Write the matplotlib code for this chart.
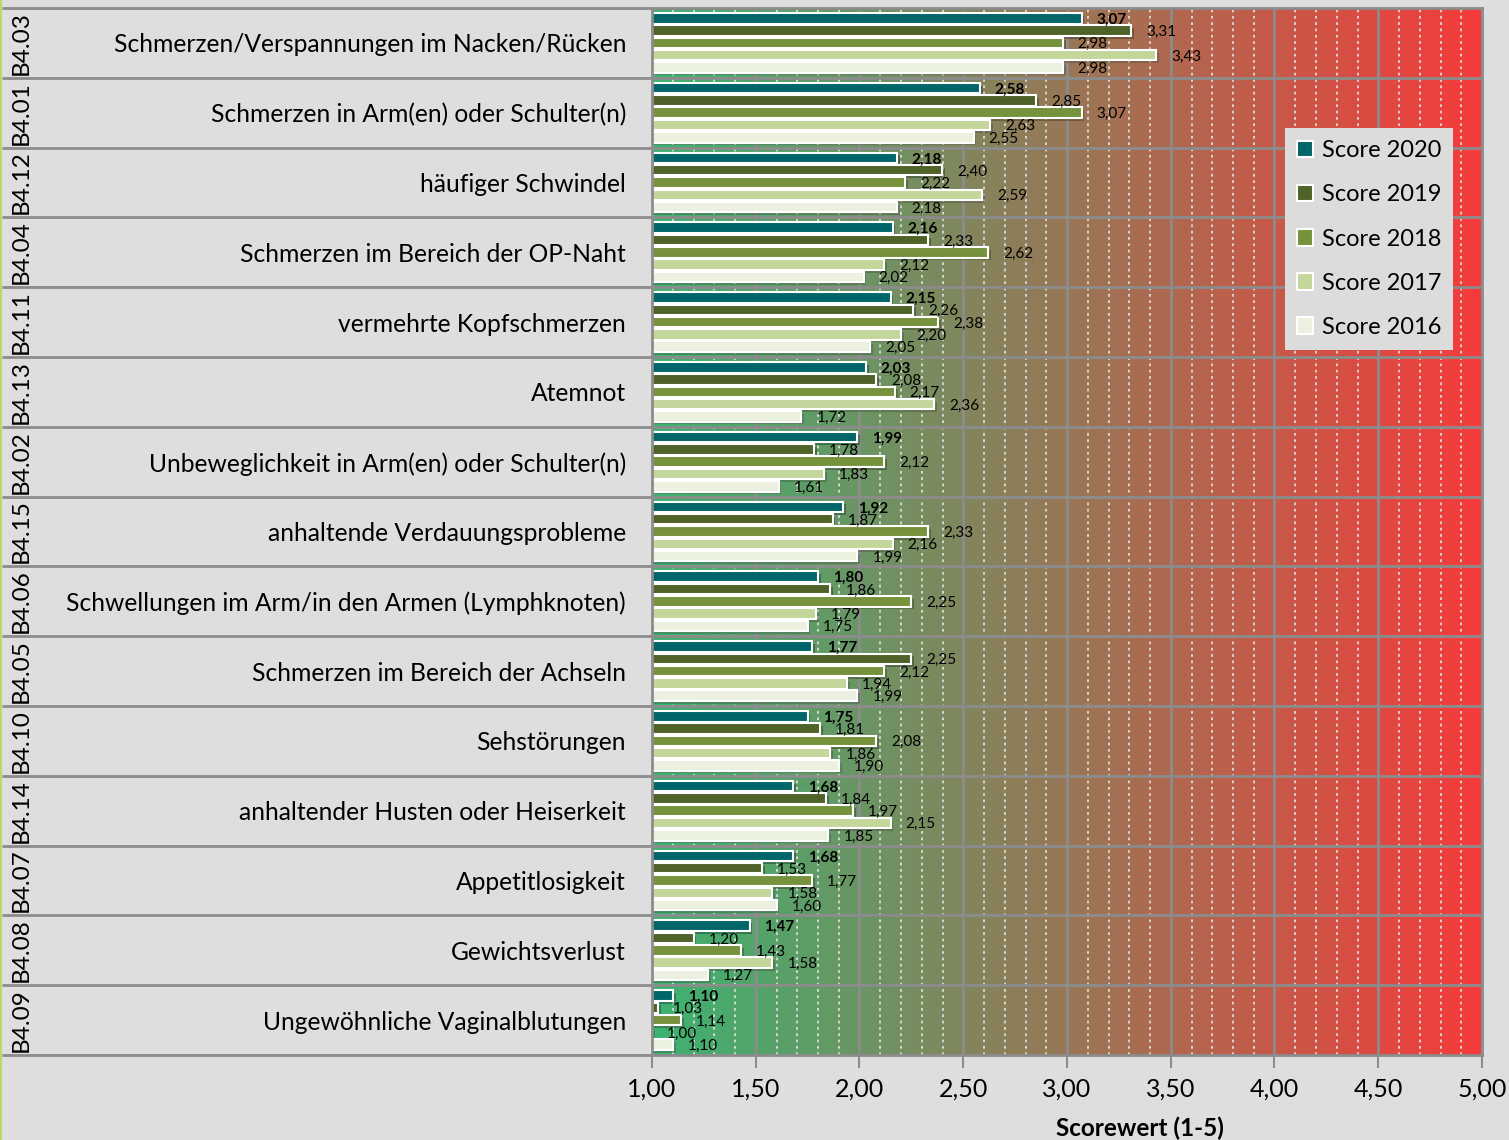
import numpy as np
import matplotlib
matplotlib.use("Agg")
import matplotlib.pyplot as plt
from matplotlib.colors import LinearSegmentedColormap
from matplotlib.patches import Patch, Rectangle
from matplotlib import patheffects

plt.rcParams['font.family'] = ['Lato', 'DejaVu Sans']

codes = ["B4.03", "B4.01", "B4.12", "B4.04", "B4.11", "B4.13", "B4.02", "B4.15",
         "B4.06", "B4.05", "B4.10", "B4.14", "B4.07", "B4.08", "B4.09"]
items = ["Schmerzen/Verspannungen im Nacken/Rücken",
         "Schmerzen in Arm(en) oder Schulter(n)",
         "häufiger Schwindel",
         "Schmerzen im Bereich der OP-Naht",
         "vermehrte Kopfschmerzen",
         "Atemnot",
         "Unbeweglichkeit in Arm(en) oder Schulter(n)",
         "anhaltende Verdauungsprobleme",
         "Schwellungen im Arm/in den Armen (Lymphknoten)",
         "Schmerzen im Bereich der Achseln",
         "Sehstörungen",
         "anhaltender Husten oder Heiserkeit",
         "Appetitlosigkeit",
         "Gewichtsverlust",
         "Ungewöhnliche Vaginalblutungen"]

years = ["Score 2020", "Score 2019", "Score 2018", "Score 2017", "Score 2016"]
score_2020 = [3.07, 2.58, 2.18, 2.16, 2.15, 2.03, 1.99, 1.92, 1.80, 1.77, 1.75, 1.68, 1.68, 1.47, 1.10]
score_2019 = [3.31, 2.85, 2.40, 2.33, 2.26, 2.08, 1.78, 1.87, 1.86, 2.25, 1.81, 1.84, 1.53, 1.20, 1.03]
score_2018 = [2.98, 3.07, 2.22, 2.62, 2.38, 2.17, 2.12, 2.33, 2.25, 2.12, 2.08, 1.97, 1.77, 1.43, 1.14]
score_2017 = [3.43, 2.63, 2.59, 2.12, 2.20, 2.36, 1.83, 2.16, 1.79, 1.94, 1.86, 2.15, 1.58, 1.58, 1.00]
score_2016 = [2.98, 2.55, 2.18, 2.02, 2.05, 1.72, 1.61, 1.99, 1.75, 1.99, 1.90, 1.85, 1.60, 1.27, 1.10]
series = [score_2020, score_2019, score_2018, score_2017, score_2016]
colors = ["#00666a", "#4f6228", "#76923c", "#c4d79b", "#ebf1de"]

W, H = 1509, 1140
L, R, T, B = 652, 1482, 8, 1055
n = len(items)

fig = plt.figure(figsize=(W / 100, H / 100), dpi=100)
fig.patch.set_facecolor("#dedede")

ax = fig.add_axes([L / W, 1 - B / H, (R - L) / W, (B - T) / H])
cmap = LinearSegmentedColormap.from_list("gr", ["#3cb371", "#f53b3b"])
ax.imshow(np.linspace(0, 1, 256).reshape(1, -1), extent=[1, 5, n, 0],
          aspect="auto", cmap=cmap, zorder=0)
ax.set_xlim(1, 5)
ax.set_ylim(n, 0)

ax.set_xticks(np.arange(1, 5.01, 0.5))
ax.set_xticks(np.arange(1, 5.01, 0.1), minor=True)
ax.set_xticklabels([f"{v:.2f}".replace(".", ",") for v in np.arange(1, 5.01, 0.5)])
ax.set_yticks([])
ax.set_axisbelow(True)
ax.grid(which="major", axis="x", color="#8c8c8c", lw=2)
ax.grid(which="minor", axis="x", color="#dcdcdc", ls=(0, (1.5, 2)), lw=1.3)
ax.hlines(np.arange(1, n), 1, 5, color="#8c8c8c", lw=2, zorder=0.6)
ax.tick_params(axis="x", which="major", length=9, width=1.5, color="#8c8c8c",
               labelsize=18, pad=7)
ax.tick_params(axis="x", which="minor", length=0)
for s in ax.spines.values():
    s.set_color("#8c8c8c")
    s.set_linewidth(2)

pitch = 0.176
shadow = [patheffects.SimplePatchShadow(offset=(2, -2), alpha=0.35), patheffects.Normal()]
for k, vals in enumerate(series):
    y = np.arange(n) + 0.5 + (k - 2) * pitch
    ax.barh(y, vals, height=0.15, color=colors[k], edgecolor="white", lw=1.5,
            zorder=2, path_effects=shadow)
    for yy, v in zip(y, vals):
        ax.text(v + 0.072, yy + 0.02, f"{v:.2f}".replace(".", ","), va="center", ha="left",
                fontsize=11, fontweight="bold" if k == 0 else "normal", zorder=3)

ax.set_xlabel("Scorewert (1-5)", fontsize=17.5, fontweight="bold")
ax.xaxis.set_label_coords((1140 - L) / (R - L), -(1117 - B) / (B - T))

# label table on the left
axl = fig.add_axes([2 / W, 1 - B / H, (L - 2) / W, (B - T) / H])
axl.set_xlim(0, L - 2)
axl.set_ylim(n, 0)
axl.axis("off")
axl.hlines(np.arange(0, n + 1), 0, L - 2, color="#8c8c8c", lw=2, clip_on=False)
for i in range(n):
    axl.text(19, i + 0.5, codes[i], rotation=90, ha="center", va="center", fontsize=17.5)
    axl.text(624, i + 0.53, items[i], ha="right", va="center", fontsize=17.7)

fig.add_artist(Rectangle((0, 0), 2 / W, 1, transform=fig.transFigure,
                         color="#b8d86b", lw=0))

handles = [Patch(facecolor=c, edgecolor="white", lw=1.5) for c in colors]
fig.legend(handles, years, loc="center", bbox_to_anchor=(1369 / W, 1 - 239 / H),
           frameon=True, facecolor="#dcdcdc", edgecolor="none", framealpha=1,
           fancybox=False, fontsize=17, handlelength=0.7, handleheight=0.7,
           labelspacing=0.98, borderpad=0.5, handletextpad=0.35, borderaxespad=0)

fig.savefig("out.png", dpi=100, facecolor=fig.get_facecolor())
